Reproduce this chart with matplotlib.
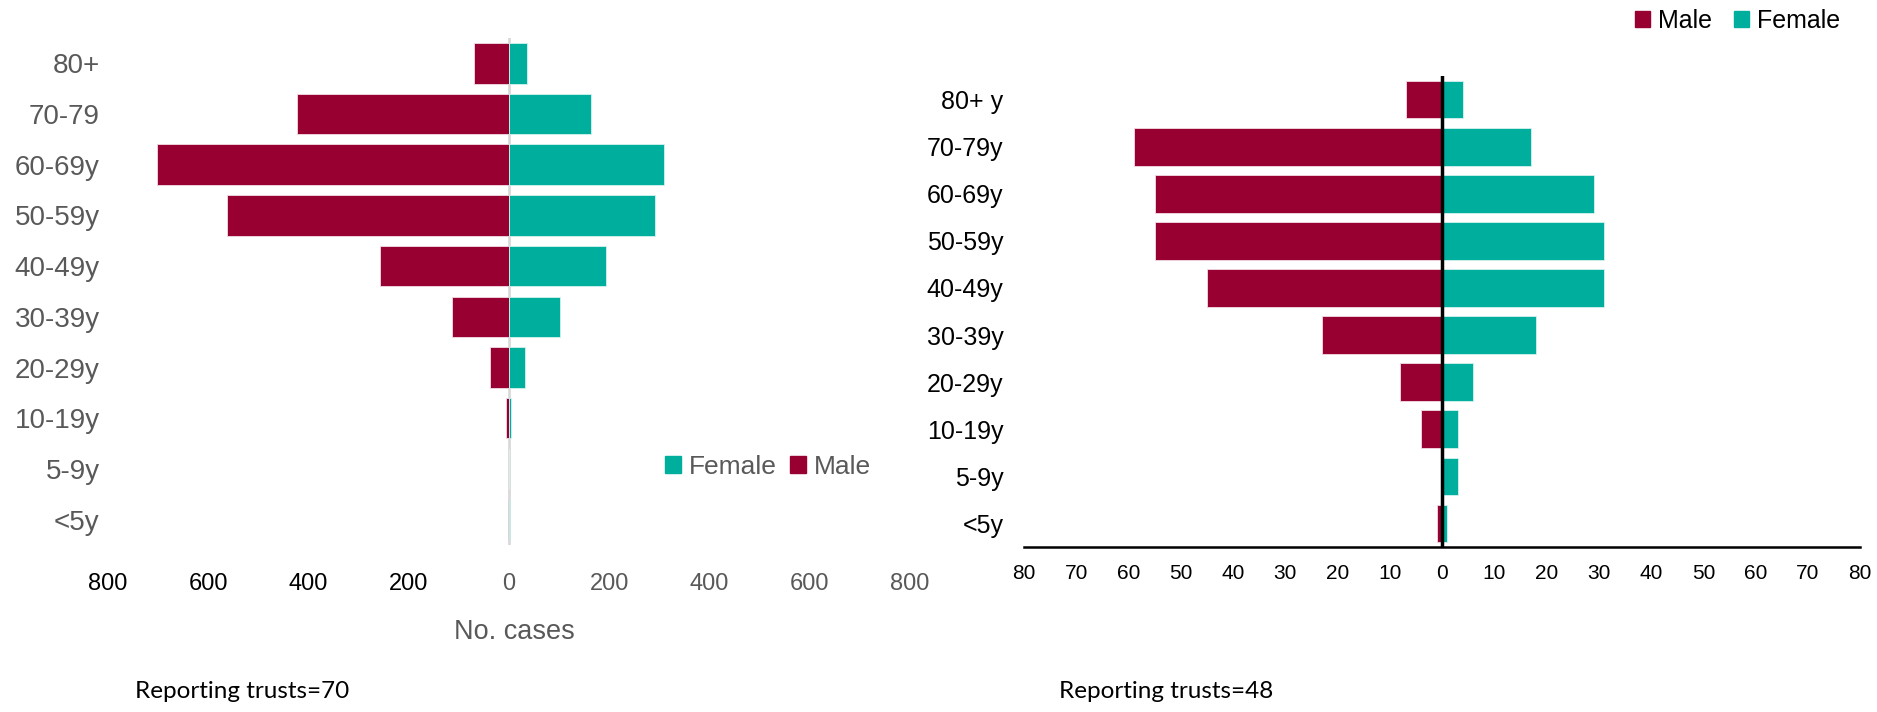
import numpy as np
import matplotlib
matplotlib.use("Agg")
import matplotlib.pyplot as plt
from matplotlib.patches import Patch

plt.rcParams['font.family'] = ['Liberation Sans', 'DejaVu Sans']

# --- data: left panel (70 trusts) ---
groups_l = ['80+', '70-79', '60-69y', '50-59y', '40-49y', '30-39y', '20-29y', '10-19y', '5-9y', '<5y']
male_l = [69, 423, 703, 563, 257, 114, 38, 6, 0, 1]
female_l = [36, 164, 309, 292, 193, 101, 32, 4, 0, 2]
ticks_l = [-800, -600, -400, -200, 0, 200, 400, 600, 800]

# --- data: right panel (48 trusts) ---
groups_r = ['80+ y', '70-79y', '60-69y', '50-59y', '40-49y', '30-39y', '20-29y', '10-19y', '5-9y', '<5y']
male_r = [7, 59, 55, 55, 45, 23, 8, 4, 0, 1]
female_r = [4, 17, 29, 31, 31, 18, 6, 3, 3, 1]
ticks_r = list(range(-80, 81, 10))

c_male = '#970030'
c_female = '#00AE9D'
grey = '#595959'

fig = plt.figure(figsize=(18.77, 7.12), dpi=100)

# ---------- left pyramid ----------
ax1 = fig.add_axes([0.0575, 0.2346, 0.4273, 0.7121])
y = np.arange(len(groups_l))
ax1.barh(y, -np.array(male_l), height=0.8, color=c_male, edgecolor='#f3dce3', linewidth=0.6)
ax1.barh(y, female_l, height=0.8, color=c_female, edgecolor='#d5f2ee', linewidth=0.6)
ax1.axvline(0, color='#d9d9d9', linewidth=2, zorder=0)
ax1.set_xlim(-800, 800)
ax1.set_ylim(len(groups_l) - 0.5, -0.5)
ax1.set_yticks(y)
ax1.set_yticklabels(groups_l, fontsize=20, color=grey)
ax1.set_xticks(ticks_l)
ax1.set_xticklabels([str(abs(t)) for t in ticks_l], fontsize=17)
for t, lab in zip(ticks_l, ax1.get_xticklabels()):
    lab.set_color('black' if t < 0 else grey)
ax1.tick_params(axis='both', length=0)
ax1.tick_params(axis='x', pad=20)
ax1.tick_params(axis='y', pad=6)
for s in ax1.spines.values():
    s.set_visible(False)
ax1.legend(handles=[Patch(color=c_female, label='Female'), Patch(color=c_male, label='Male')],
           loc='center left', bbox_to_anchor=(0.695, 0.154), ncol=2, frameon=False,
           borderaxespad=0, borderpad=0,
           fontsize=19, labelcolor=grey, handlelength=0.6, handleheight=0.6,
           handletextpad=0.3, columnspacing=0.5)
fig.text(514 / 1877, 1 - 632 / 712, 'No. cases', fontsize=19.5, color=grey,
         ha='center', va='center')

# ---------- right pyramid ----------
ax2 = fig.add_axes([0.5456, 0.2317, 0.4454, 0.6615])
y = np.arange(len(groups_r))
ax2.barh(y, -np.array(male_r), height=0.8, color=c_male, edgecolor='#f3dce3', linewidth=0.6)
ax2.barh(y, female_r, height=0.8, color=c_female, edgecolor='#d5f2ee', linewidth=0.6)
ax2.axvline(0, color='black', linewidth=2.5)
ax2.set_xlim(-80, 80)
ax2.set_ylim(len(groups_r) - 0.5, -0.5)
ax2.set_yticks(y)
ax2.set_yticklabels(groups_r, fontsize=18, color='black')
ax2.set_xticks(ticks_r)
ax2.set_xticklabels([str(abs(t)) for t in ticks_r], fontsize=15)
ax2.tick_params(axis='both', length=0)
ax2.tick_params(axis='x', pad=12)
ax2.tick_params(axis='y', pad=15)
for k in ['top', 'right', 'left']:
    ax2.spines[k].set_visible(False)
ax2.spines['bottom'].set_linewidth(1.8)
ax2.legend(handles=[Patch(color=c_male, label='Male'), Patch(color=c_female, label='Female')],
           loc='center right', bbox_to_anchor=(0.976, 1.117), ncol=2, frameon=False,
           borderaxespad=0, borderpad=0,
           fontsize=18, handlelength=0.6, handleheight=0.6,
           handletextpad=0.3, columnspacing=0.9)

# footnotes
fig.text(135 / 1877, 1 - 692 / 712, 'Reporting trusts=70', fontsize=17.5,
         family=['Lato', 'DejaVu Sans'], va='center', ha='left')
fig.text(1059 / 1877, 1 - 692 / 712, 'Reporting trusts=48', fontsize=17.5,
         family=['Lato', 'DejaVu Sans'], va='center', ha='left')

fig.savefig('out.png', dpi=100)
